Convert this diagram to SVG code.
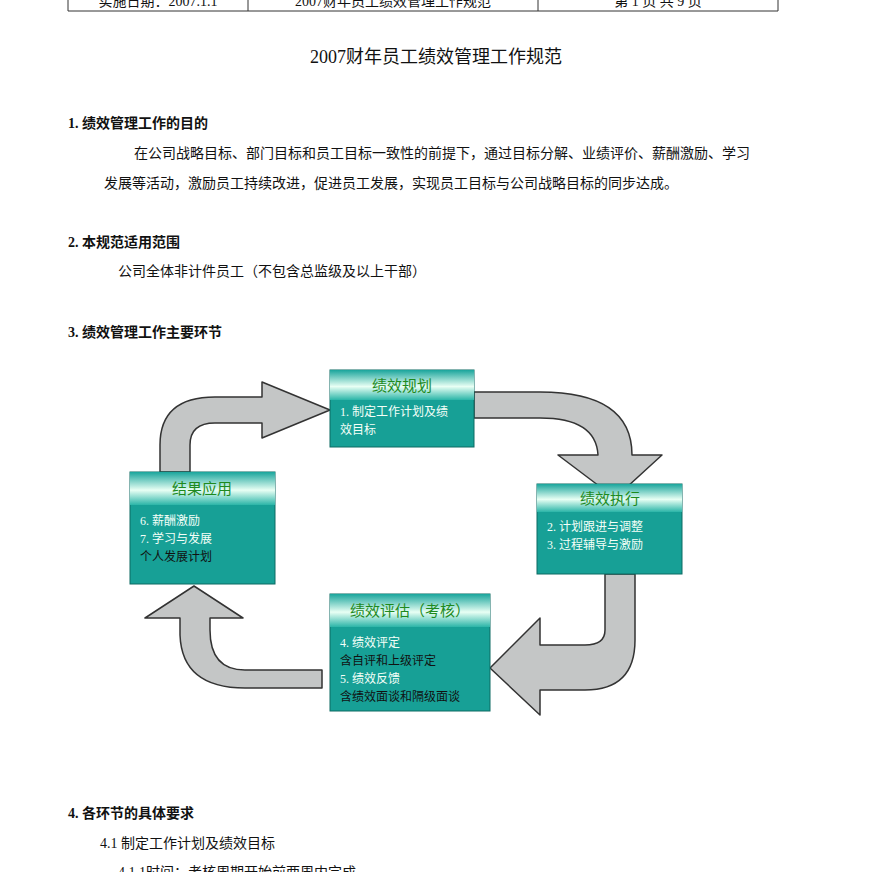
<svg xmlns="http://www.w3.org/2000/svg" width="872" height="872" viewBox="0 0 872 872">
<defs>
<linearGradient id="hg" x1="0" y1="0" x2="0" y2="1">
<stop offset="0" stop-color="#1aa59c"/><stop offset="0.55" stop-color="#e8fff4"/><stop offset="1" stop-color="#2bb5a8"/>
</linearGradient>
<style>
text{font-family:"Liberation Serif","Noto Sans CJK SC",serif;fill:#111}
.t{font-size:14px}
.h{font-size:14px;font-weight:bold}
.hd{font-size:15px;fill:#1e8a1e;text-anchor:middle;font-family:"Noto Sans CJK SC",sans-serif}
.w{font-size:12px;fill:#f4fff8}
.k{font-size:12px;fill:#111}
.body{fill:#17a096;stroke:#0d6b63;stroke-width:1}
.arr{fill:#c4c6c6;stroke:#333;stroke-width:1.5;stroke-linejoin:round}
.ln{stroke:#333;stroke-width:1;fill:none}
</style>
</defs>
<rect width="872" height="872" fill="#fff"/>
<g id="header">
<path class="ln" d="M68,0 V11 H778 V0 M248,0 V11 M538,0 V11"/>
<text x="158" y="6" class="t" text-anchor="middle">实施日期：2007.1.1</text>
<text x="393" y="6" class="t" text-anchor="middle">2007财年员工绩效管理工作规范</text>
<text x="658" y="6" class="t" text-anchor="middle">第 1 页    共 9 页</text>
</g>
<text x="436" y="63" font-size="18" text-anchor="middle">2007财年员工绩效管理工作规范</text>
<text x="68" y="128" class="h">1.  绩效管理工作的目的</text>
<text x="134" y="158" class="t">在公司战略目标、部门目标和员工目标一致性的前提下，通过目标分解、业绩评价、薪酬激励、学习</text>
<text x="104" y="188" class="t">发展等活动，激励员工持续改进，促进员工发展，实现员工目标与公司战略目标的同步达成。</text>
<text x="68" y="247" class="h">2.  本规范适用范围</text>
<text x="118" y="276" class="t">公司全体非计件员工（不包含总监级及以上干部）</text>
<text x="68" y="337" class="h">3.  绩效管理工作主要环节</text>
<text x="68" y="818" class="h">4.  各环节的具体要求</text>
<text x="100" y="848" class="t">4.1    制定工作计划及绩效目标</text>
<text x="118" y="877" class="t">4.1.1时间：考核周期开始前两周内完成</text>
<g id="connectors">
<path class="arr" d="M160,472 L160,445 Q160,397 215,397 L262,397 L262,382 L330,410 L262,438 L262,423 L215,423 Q190,423 190,445 L190,472 Z"/>
<path class="arr" d="M474,392 L540,392 Q632,392 632,455 L662,455 L615,498 L558,455 L598,455 Q596,418 540,418 L474,418 Z"/>
<path class="arr" d="M605,574 L605,630 Q605,645 585,645 L540,645 L540,618 L490,668 L540,715 L540,690 L585,690 Q635,690 635,640 L635,574 Z"/>
<path class="arr" d="M322,670 L245,670 Q210,670 210,630 L210,618 L243,618 L194,586 L145,618 L180,618 L180,635 Q182,688 245,688 L322,688 Z"/>
</g>
<g id="n1">
<rect class="body" x="330" y="370" width="144" height="77"/>
<rect x="330" y="370" width="144" height="30" fill="url(#hg)"/>
<text x="402" y="391" class="hd">绩效规划</text>
<text x="340" y="416" class="w">1. 制定工作计划及绩</text>
<text x="340" y="434" class="w">效目标</text>
</g>
<g id="n2">
<rect class="body" x="537" y="484" width="145" height="90"/>
<rect x="537" y="484" width="145" height="28" fill="url(#hg)"/>
<text x="610" y="504" class="hd">绩效执行</text>
<text x="547" y="531" class="w">2. 计划跟进与调整</text>
<text x="547" y="549" class="w">3. 过程辅导与激励</text>
</g>
<g id="n3">
<rect class="body" x="330" y="594" width="160" height="117"/>
<rect x="330" y="594" width="160" height="33" fill="url(#hg)"/>
<text x="410" y="616" class="hd">绩效评估（考核）</text>
<text x="340" y="647" class="w">4. 绩效评定</text>
<text x="340" y="665" class="k">含自评和上级评定</text>
<text x="340" y="683" class="w">5. 绩效反馈</text>
<text x="340" y="701" class="k">含绩效面谈和隔级面谈</text>
</g>
<g id="n4">
<rect class="body" x="130" y="472" width="145" height="112"/>
<rect x="130" y="472" width="145" height="33" fill="url(#hg)"/>
<text x="202" y="494" class="hd">结果应用</text>
<text x="140" y="525" class="w">6.  薪酬激励</text>
<text x="140" y="543" class="w">7.  学习与发展</text>
<text x="140" y="561" class="k">个人发展计划</text>
</g>
</svg>
